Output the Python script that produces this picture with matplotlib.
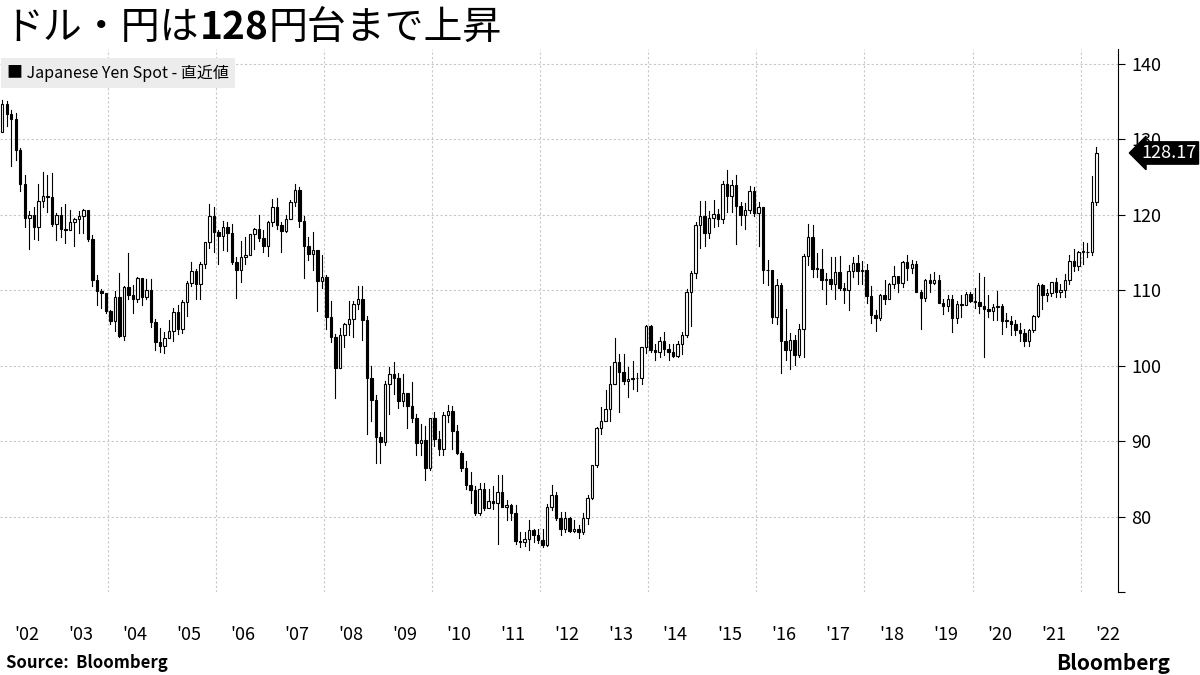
import matplotlib
matplotlib.use("Agg")
import matplotlib.pyplot as plt
from matplotlib.patches import Rectangle
import numpy as np

plt.rcParams['font.family'] = ['Noto Sans CJK JP', 'DejaVu Sans']

first_open = 131.0
closes = [134.7,133.3,132.7,128.5,124.0,119.6,119.9,118.4,121.8,122.5,122.4,118.8,
119.9,118.1,118.0,119.0,119.4,119.8,120.6,116.8,111.4,109.9,109.6,107.2,
105.9,109.1,103.9,110.4,109.4,108.8,111.6,109.1,110.0,105.8,103.1,102.6,
103.6,104.6,107.1,104.9,108.4,110.9,112.5,110.8,113.5,116.4,119.8,117.7,
117.2,118.3,117.6,113.7,112.7,114.4,114.6,117.4,118.1,116.9,115.8,119.0,
121.0,118.6,117.8,119.4,121.7,123.2,119.2,115.8,114.8,115.3,111.2,111.7,
106.4,103.8,99.7,104.0,105.5,106.2,108.1,108.8,106.1,98.4,95.4,90.6,
89.9,97.6,98.9,98.4,95.3,96.4,94.7,93.0,89.8,90.1,86.4,93.0,
90.3,89.0,93.5,94.0,91.3,88.4,86.4,84.2,83.5,80.4,83.7,81.1,
82.1,81.8,83.2,81.2,81.5,80.5,76.8,76.6,77.0,78.2,77.6,76.9,
76.2,81.2,82.9,79.8,78.3,79.8,78.1,78.3,77.9,79.8,82.5,86.8,
91.7,92.6,94.2,97.5,100.5,99.1,97.9,98.2,98.3,98.4,102.4,105.3,
102.0,101.8,103.2,102.2,101.8,101.3,102.8,104.1,109.7,112.3,118.6,119.8,
117.5,119.6,120.1,119.4,124.1,122.5,123.9,121.2,119.9,120.6,123.1,120.2,
121.0,112.7,112.6,106.5,110.7,103.2,102.1,103.4,101.4,104.8,114.5,117.0,
112.8,112.8,111.4,111.5,110.8,112.4,110.3,110.0,112.5,113.6,112.5,112.7,
109.2,106.7,106.3,109.3,108.8,110.8,111.9,111.0,113.7,112.9,113.5,109.7,
108.9,111.4,110.9,111.4,108.3,107.9,108.8,106.3,108.1,108.0,109.5,108.6,
108.4,107.9,107.5,107.2,107.8,107.9,105.9,105.9,105.5,104.7,104.3,103.3,
104.7,106.6,110.7,109.3,109.6,111.1,109.7,110.0,111.3,113.9,113.2,115.1,
115.1,115.0,121.7,128.17]
highs = [135.2,135.0,133.9,133.5,128.8,125.2,120.5,121.0,124.0,125.6,125.2,125.5,
120.2,121.0,121.4,120.6,119.6,120.5,120.8,120.4,117.3,112.0,110.2,109.6,
107.4,109.9,112.2,110.5,114.9,110.7,111.7,111.4,111.5,111.5,106.2,105.0,
104.5,106.0,107.6,108.0,108.7,111.2,113.7,112.8,113.7,116.4,121.4,121.0,
117.9,119.1,119.0,118.7,114.4,116.5,117.1,117.4,118.2,119.9,118.0,119.1,
122.1,122.2,119.0,120.0,122.0,124.1,123.7,119.8,117.0,117.7,115.0,114.7,
112.0,108.6,104.2,105.0,105.6,108.6,108.6,110.6,110.6,106.6,99.9,96.1,
91.2,98.0,99.8,100.5,99.0,98.9,95.8,97.8,93.6,92.3,92.0,93.1,
93.8,91.3,93.8,94.8,94.7,92.1,88.7,87.4,85.9,84.0,84.4,84.5,
83.7,84.0,85.5,85.5,82.2,81.7,81.5,77.9,77.9,79.5,78.4,78.3,
78.3,81.7,84.2,83.3,80.6,80.6,80.0,79.6,78.9,80.4,82.8,86.6,
91.8,94.5,96.7,99.9,103.7,101.5,101.5,99.8,100.6,99.0,102.5,105.4,
105.4,102.8,103.8,104.4,102.8,102.8,103.2,104.5,110.1,112.5,118.98,121.8,
121.8,120.5,122.0,120.8,124.5,125.9,124.6,125.3,121.7,121.5,123.8,123.7,
121.7,121.0,114.0,112.0,111.5,110.9,107.5,104.3,104.0,105.5,114.8,118.7,
118.6,114.9,115.5,112.2,114.4,114.4,114.5,111.0,113.3,114.4,114.7,113.8,
113.4,110.5,107.3,109.5,111.4,111.0,113.2,111.8,113.9,114.6,114.0,113.8,
110.0,111.5,112.1,112.4,112.0,108.8,109.3,109.3,108.5,109.3,109.7,109.7,
110.3,112.2,111.7,109.4,108.1,109.9,108.2,107.0,106.6,106.1,105.7,104.9,
104.9,106.7,110.97,110.8,110.2,111.1,111.6,110.8,112.1,114.7,115.5,115.2,
116.35,116.3,125.1,128.9]
lows = [130.9,131.8,126.4,127.3,123.1,118.4,115.5,116.8,116.6,121.0,120.3,118.5,
116.6,117.0,116.2,117.9,115.9,117.5,117.5,116.5,110.5,108.0,107.6,106.9,
105.5,104.6,103.8,103.4,108.8,106.9,108.4,108.0,108.8,105.1,102.1,101.8,
101.7,103.6,103.3,104.2,104.3,106.6,110.5,108.8,108.8,112.9,115.6,115.0,
113.5,115.3,115.2,113.4,108.9,111.1,113.5,114.6,115.5,116.5,115.1,114.5,
118.5,118.1,115.1,117.7,119.4,121.1,118.4,111.6,114.0,112.6,107.2,110.3,
104.9,103.1,95.7,99.7,102.5,104.1,103.8,107.5,103.4,90.9,92.6,87.1,
87.1,89.5,93.6,96.2,94.4,94.6,91.7,92.5,88.2,88.2,84.8,86.2,
89.4,88.2,88.1,92.5,88.9,88.3,86.0,83.6,81.8,80.2,80.2,80.9,
81.2,81.0,76.3,81.2,79.6,79.6,76.3,75.9,76.1,75.6,76.6,76.5,
76.0,76.1,80.9,79.6,77.6,78.0,77.9,78.0,77.1,77.7,79.0,82.3,
86.5,90.9,92.6,92.6,97.5,93.8,97.6,95.8,96.9,96.6,97.6,101.6,
101.8,100.8,101.2,101.4,100.8,101.1,101.1,101.5,103.8,105.2,111.6,115.6,
115.9,116.9,118.3,118.5,118.9,120.4,120.4,116.1,118.6,118.1,120.2,119.8,
115.9,110.9,110.7,105.6,105.5,99.0,100.7,99.5,100.1,101.2,101.2,113.3,
111.7,111.7,110.1,108.1,110.2,108.8,110.0,108.3,107.3,111.7,110.8,110.8,
108.3,105.6,104.6,106.0,108.1,109.2,110.3,109.8,110.4,111.4,112.3,110.3,
104.9,108.5,109.7,110.8,108.3,106.8,107.2,104.5,105.7,106.5,108.2,108.4,
107.6,107.0,101.2,106.4,106.0,106.1,104.2,105.1,104.0,104.0,103.2,102.6,
102.6,104.4,106.4,107.5,108.6,109.2,109.1,109.1,109.1,110.8,112.5,112.6,
113.5,114.4,114.7,121.3]
year_labels = ["'02","'03","'04","'05","'06","'07","'08","'09","'10","'11","'12",
               "'13","'14","'15","'16","'17","'18","'19","'20","'21","'22"]
y_ticks = [80, 90, 100, 110, 120, 130, 140]

opens = [first_open] + closes[:-1]
n = len(closes)
xs = 2002 + (np.arange(n) + 0.5) / 12.0

fig = plt.figure(figsize=(12, 6.75), dpi=100)
ax = fig.add_axes([0.0, 0.123, 0.932, 0.805])
ax.set_xlim(2002.0, 2022.7)
ax.set_ylim(70, 142)

w = 0.55 / 12
for x, o, h, l, c in zip(xs, opens, highs, lows, closes):
    ax.plot([x, x], [l, h], color='black', lw=0.8, zorder=3)
    lo, hi = min(o, c), max(o, c)
    fc = 'white' if c >= o else 'black'
    ax.add_patch(Rectangle((x - w/2, lo), w, max(hi - lo, 0.08), facecolor=fc,
                           edgecolor='black', lw=0.8, zorder=4))

for yv in y_ticks:
    ax.axhline(yv, color='#c8c8c8', lw=0.8, ls=(0, (2, 2)), zorder=1)
for yr in range(2004, 2023, 2):
    ax.axvline(yr, color='#c8c8c8', lw=0.8, ls=(0, (2, 2)), zorder=1)

for s in ['left', 'top', 'bottom']:
    ax.spines[s].set_visible(False)
ax.spines['right'].set_color('black')
ax.yaxis.tick_right()
ax.set_yticks([70] + y_ticks)
ax.set_yticklabels([''] + [str(v) for v in y_ticks], fontsize=13)
ax.tick_params(axis='y', length=5, direction='out', pad=4)
ax.set_xticks([])
for i, lab in enumerate(year_labels):
    ax.text(2002.5 + i, 64.3, lab, ha='center', va='center', fontsize=13)

ax.annotate('128.17', xy=(2022.7, closes[-1]), xytext=(2022.7 + 0.42, closes[-1]),
            xycoords='data', textcoords='data', fontsize=13, color='white',
            ha='left', va='center', annotation_clip=False, zorder=10,
            bbox=dict(boxstyle='larrow,pad=0.12', fc='black', ec='black'))

fig.text(0.006, 0.892, '■ Japanese Yen Spot - 直近値', fontsize=11.5, va='center',
         ha='left', bbox=dict(boxstyle='square,pad=0.4', fc='#ececec', ec='none'))

renderer = fig.canvas.get_renderer()
xpos = 0.004
for part, wt in [('ドル・円は', 'normal'), ('128', 'bold'), ('円台まで上昇', 'normal')]:
    t = fig.text(xpos, 0.958, part, fontsize=28, fontweight=wt, va='center', ha='left')
    bb = t.get_window_extent(renderer)
    xpos += bb.width / fig.bbox.width

fig.text(0.005, 0.004, 'Source:  Bloomberg', fontsize=12, fontweight='bold', va='bottom')
fig.text(0.975, 0.002, 'Bloomberg', fontsize=15, fontweight='bold', va='bottom', ha='right')

fig.savefig('out.png', dpi=100)
